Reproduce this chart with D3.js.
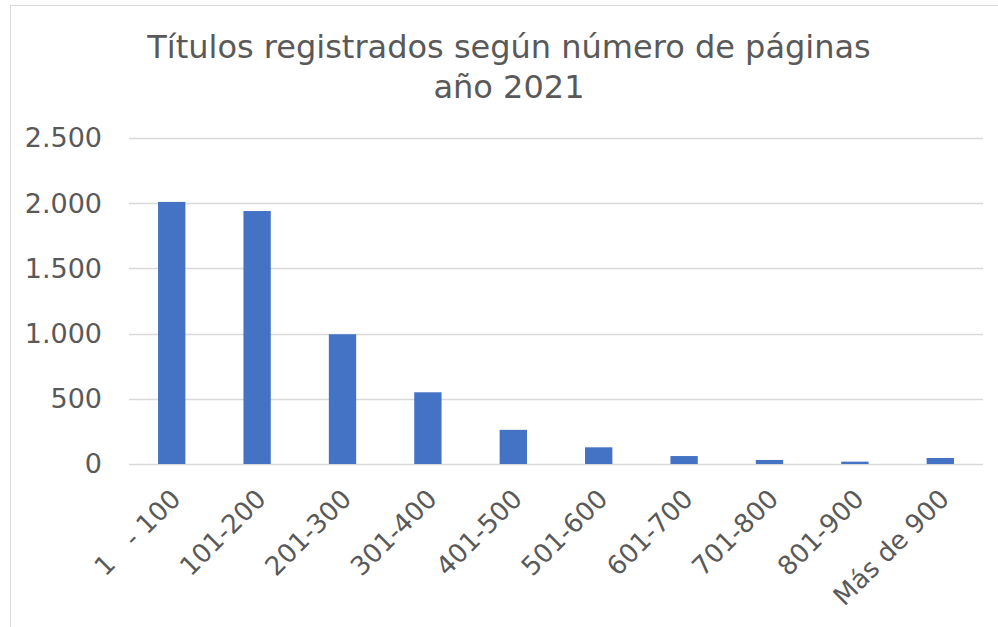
<!DOCTYPE html>
<html>
<head>
<meta charset="utf-8">
<script src="https://cdn.jsdelivr.net/npm/d3@7"></script>
<style>
  body { margin: 0; background: #fff; }
  text { font-family: "DejaVu Sans", Verdana, sans-serif; fill: #595959; }
</style>
</head>
<body>
<svg width="998" height="627"></svg>
<script>
const categories = ["1   - 100", "101-200", "201-300", "301-400", "401-500", "501-600", "601-700", "701-800", "801-900", "Más de 900"];
const values = [2010, 1940, 995, 550, 262, 128, 61, 31, 18, 46];
const yTicks = [0, 500, 1000, 1500, 2000, 2500];
const titleLines = ["Títulos registrados según número de páginas", "año 2021"];

const svg = d3.select("svg");
const margin = { left: 129, right: 15, top: 138, bottom: 163 };
const width = 998, height = 627;

// chart frame
svg.append("rect")
  .attr("x", 10.5).attr("y", 5.5)
  .attr("width", 1000).attr("height", 1000)
  .attr("fill", "none").attr("stroke", "#d9d9d9");

const x = d3.scaleBand()
  .domain(categories)
  .range([margin.left, width - margin.right])
  .paddingInner(0.68).paddingOuter(0.34);

const y = d3.scaleLinear()
  .domain([0, 2500])
  .range([height - margin.bottom, margin.top]);

const fmt = d => d3.format(",")(d).replace(/,/g, ".");

// grid
svg.append("g")
  .selectAll("line")
  .data(yTicks)
  .join("line")
  .attr("x1", margin.left).attr("x2", width - margin.right)
  .attr("y1", d => Math.round(y(d)) + 0.5).attr("y2", d => Math.round(y(d)) + 0.5)
  .attr("stroke", "#d9d9d9").attr("stroke-width", 1.3);

// y labels
svg.append("g")
  .selectAll("text")
  .data(yTicks)
  .join("text")
  .attr("x", 102).attr("y", d => y(d))
  .attr("dy", "0.35em")
  .attr("text-anchor", "end")
  .style("font-size", "27px")
  .text(fmt);

// bars
svg.append("g")
  .selectAll("rect")
  .data(values)
  .join("rect")
  .attr("x", (d, i) => x(categories[i]))
  .attr("width", x.bandwidth())
  .attr("y", d => y(d))
  .attr("height", d => y(0) - y(d))
  .attr("fill", "#4472c4");

// x labels
svg.append("g")
  .selectAll("text")
  .data(categories)
  .join("text")
  .attr("transform", d => `translate(${x(d) + x.bandwidth() / 2 + 4},${y(0) + 30}) rotate(-45)`)
  .attr("text-anchor", "end")
  .attr("dy", "0.35em")
  .style("font-size", "26px")
  .style("white-space", "pre")
  .text(d => d);

// title
svg.append("text")
  .attr("y", 58)
  .attr("text-anchor", "middle")
  .style("font-size", "32px")
  .selectAll("tspan")
  .data(titleLines)
  .join("tspan")
  .attr("x", 509)
  .attr("dy", (d, i) => i ? 40 : 0)
  .text(d => d);
</script>
</body>
</html>
